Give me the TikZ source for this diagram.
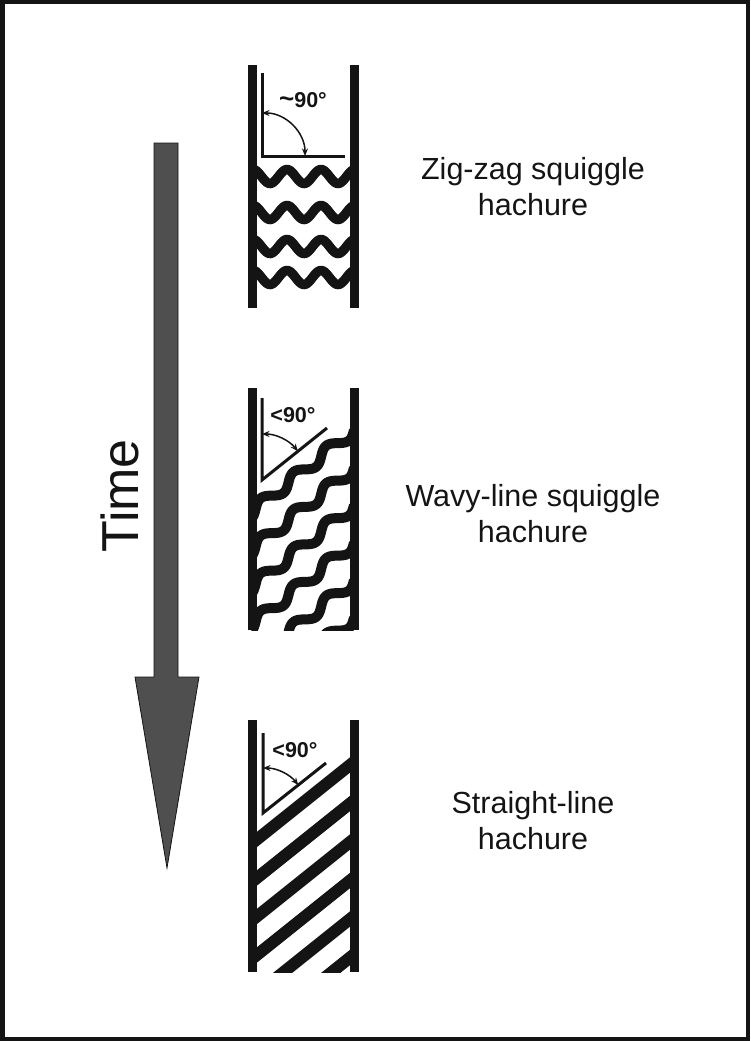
\documentclass[tikz,border=0pt]{standalone}
\usepackage{fontspec}
\setmainfont{Liberation Sans}
\usetikzlibrary{arrows.meta}
\definecolor{cink}{HTML}{141414}
\definecolor{cshaft}{HTML}{4F4F4F}
\tikzset{
  every picture/.style={x=1pt, y=1pt, font=\fontsize{30.5}{36}\selectfont},
  wall/.style={fill=cink, draw=none},
  band/.style={draw=cink, line width=#1},
  band/.default=9.5pt,
  ell/.style={draw=cink, line width=3pt, miter limit=10},
  angarrow/.style={{Stealth[length=7.5pt,width=6pt]}-{Stealth[length=7.5pt,width=6pt]}, draw=cink, line width=1.5pt},
  anglab/.style={font=\fontsize{21.5}{24}\selectfont\bfseries, text=cink, inner sep=0pt},
  lab/.style={align=center, text=cink, inner sep=0pt},
}

\begin{document}
\begin{tikzpicture}
  \useasboundingbox (0,0) rectangle (750,-1041);
  \draw[cink, line width=4.5pt] (2.25,-2.25) rectangle (747.75,-1038.75);
  \draw[fill=cshaft, draw=cink, line width=0.8pt] (154,-143) -- (178,-143) -- (178,-677) -- (199,-677) -- (167,-868) -- (135,-677) -- (154,-677) -- cycle;
  \node[rotate=90, anchor=base, font=\fontsize{52}{60}\selectfont, text=cink] (time) at (138,-496) {Time};
  \begin{scope}
    \clip (250,-65) rectangle (357,-308);
    \foreach \yc in {176.5, 212.5, 246.5, 277.5}
      \draw[band] plot[domain=250:357, samples=80, smooth] (\x, {-\yc + 7*cos(10.588*(\x-287))});
  \end{scope}
  \begin{scope}
    \clip (250,-388) rectangle (357,-630);
    \foreach \k in {0,...,5}
      \draw[band=10pt] plot[domain=0:135, samples=90, smooth] ({354 - 0.78*\x + 3.2*sin(8.571*\x)}, {-(430+37.5*\k) - 0.625*\x - 4*sin(8.571*\x)});
  \end{scope}
  \begin{scope}
    \clip (250,-720) rectangle (357,-972);
    \foreach \k in {0,...,5}
      \draw[band=12pt] (360,{-(765+38.5*\k)+8}) -- ++(-125,-100);
  \end{scope}
  \foreach \ya/\yb in {65/308, 388/630, 720/972} {
    \fill[wall] (248,-\ya) rectangle (257,-\yb);
    \fill[wall] (350,-\ya) rectangle (359,-\yb);
  }
  \coordinate (c1) at (262,-156);
  \coordinate (c2) at (262,-480);
  \coordinate (c3) at (263,-813);
  \draw[ell] (262,-73) -- (c1) -- (345,-156);
  \draw[ell] (262,-398) -- (c2) -- (327,-428);
  \draw[ell] (263,-733) -- (c3) -- (326,-763);
  \draw[angarrow] ([shift={(90:43)}]c1) arc[start angle=90, end angle=0, radius=43];
  \draw[angarrow] ([shift={(90:46)}]c2) arc[start angle=90, end angle=38.7, radius=46];
  \draw[angarrow] ([shift={(90:45)}]c3) arc[start angle=90, end angle=38.4, radius=45];
  \node[anglab] (a1) at (303,-100) {{\fontsize{26}{24}\selectfont\textasciitilde}90°};
  \node[anglab] (a2) at (293,-415) {<90°};
  \node[anglab] (a3) at (295,-750) {<90°};
  \node[lab] (zz) at (533,-187) {Zig-zag squiggle\\hachure};
  \node[lab] (wl) at (533,-514) {Wavy-line squiggle\\hachure};
  \node[lab] (sl) at (533,-821) {Straight-line\\hachure};
\end{tikzpicture}
\end{document}
